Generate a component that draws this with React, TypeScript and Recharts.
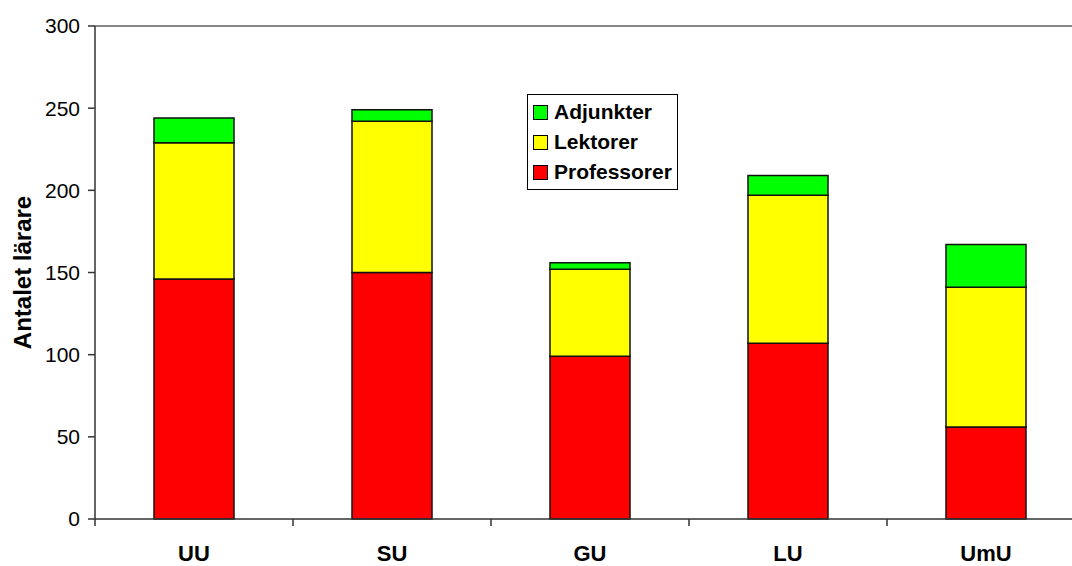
import { BarChart, Bar, XAxis, YAxis, Legend, ReferenceLine } from 'recharts';

// universities on the x axis
const universities = ['UU', 'SU', 'GU', 'LU', 'UmU'];

// stacked segments, bottom to top
const professorer = [146, 150, 99, 107, 56];
const lektorer = [83, 92, 53, 90, 85];
const adjunkter = [15, 7, 4, 12, 26];

const yTicks = [0, 50, 100, 150, 200, 250, 300];

const seriesNames = ['Professorer', 'Lektorer', 'Adjunkter'];
const seriesColors = ['#ff0000', '#ffff00', '#00ff00'];

const FONT = '"Liberation Sans", Arial, sans-serif';
const LABEL_GAP = 26;
const TICK_LEN = 7;

const data = universities.map((name, i) => ({
  name,
  professorer: professorer[i],
  lektorer: lektorer[i],
  adjunkter: adjunkter[i],
}));

// legend lists the top segment first, like the original
const LegendBox = () => (
  <div
    style={{
      border: '1px solid #000',
      background: '#fff',
      padding: '2px 5px 2px 5px',
      fontFamily: FONT,
      fontWeight: 'bold',
      fontSize: 21,
      color: '#000',
    }}
  >
    {[2, 1, 0].map((idx) => (
      <div key={seriesNames[idx]} style={{ display: 'flex', alignItems: 'center', height: 30 }}>
        <span
          style={{
            display: 'inline-block',
            width: 13,
            height: 13,
            background: seriesColors[idx],
            border: '1px solid #000',
            marginRight: 6,
          }}
        />
        {seriesNames[idx]}
      </div>
    ))}
  </div>
);

// category label plus tick marks on the band edges (Excel style)
const CategoryTick = (props: any) => {
  const { x, y, payload, width, visibleTicksCount, index } = props;
  const half = width / (2 * visibleTicksCount);
  const axisY = y - LABEL_GAP;
  return (
    <g>
      <line x1={x - half} x2={x - half} y1={axisY} y2={axisY + TICK_LEN} stroke="#333" strokeWidth={1.5} />
      {index === visibleTicksCount - 1 && (
        <line x1={x + half} x2={x + half} y1={axisY} y2={axisY + TICK_LEN} stroke="#333" strokeWidth={1.5} />
      )}
      <text x={x} y={y} dy="0.71em" textAnchor="middle" fill="#000" fontFamily={FONT} fontWeight="bold" fontSize={22}>
        {payload.value}
      </text>
    </g>
  );
};

export default function App() {
  return (
    <div style={{ position: 'absolute', left: 0, top: 0, width: 1072, height: 566, overflow: 'hidden', background: '#fff' }}>
      <BarChart
        width={1090}
        height={566}
        data={data}
        margin={{ top: 26, right: 5, bottom: 0, left: 0 }}
        barSize={80}
      >
        <XAxis
          dataKey="name"
          height={47}
          tickLine={false}
          tickSize={0}
          tickMargin={LABEL_GAP}
          interval={0}
          axisLine={{ stroke: '#333', strokeWidth: 1.5 }}
          tick={<CategoryTick />}
        />
        <YAxis
          width={95}
          domain={[0, 300]}
          ticks={yTicks}
          tickSize={TICK_LEN}
          tickMargin={8}
          axisLine={{ stroke: '#333', strokeWidth: 1.5 }}
          tickLine={{ stroke: '#333', strokeWidth: 1.5 }}
          tick={{ fill: '#000', fontFamily: FONT, fontSize: 21 }}
          label={{
            value: 'Antalet lärare',
            angle: -90,
            position: 'insideLeft',
            offset: 22,
            style: { textAnchor: 'middle', fill: '#000', fontFamily: FONT, fontWeight: 'bold', fontSize: 24 },
          }}
        />
        <ReferenceLine y={300} stroke="#888" strokeWidth={2} />
        <Legend
          layout="horizontal"
          verticalAlign="middle"
          content={() => <LegendBox />}
          wrapperStyle={{ left: 527, top: 94, width: 'auto' }}
        />
        <Bar dataKey="professorer" name={seriesNames[0]} stackId="a" fill={seriesColors[0]} stroke="#111" strokeWidth={1.5} isAnimationActive={false} />
        <Bar dataKey="lektorer" name={seriesNames[1]} stackId="a" fill={seriesColors[1]} stroke="#111" strokeWidth={1.5} isAnimationActive={false} />
        <Bar dataKey="adjunkter" name={seriesNames[2]} stackId="a" fill={seriesColors[2]} stroke="#111" strokeWidth={1.5} isAnimationActive={false} />
      </BarChart>
    </div>
  );
}
